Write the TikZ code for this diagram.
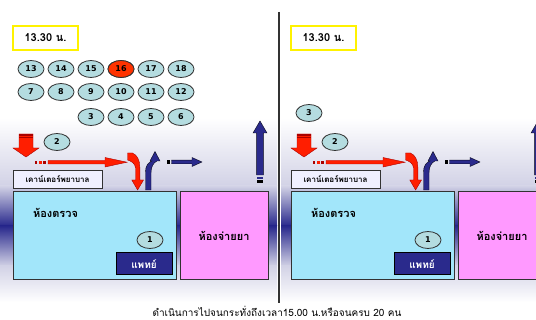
\documentclass[tikz,border=0pt]{standalone}
\usepackage{fontspec}
\newfontfamily\thai[Script=Thai]{Loma}
\newfontfamily\digits{DejaVu Sans}
\usetikzlibrary{shapes.geometric}

\definecolor{numfill}{RGB}{180,220,224}
\definecolor{hotnum}{RGB}{255,51,0}
\definecolor{redarrow}{RGB}{255,30,0}
\definecolor{redline}{RGB}{170,0,0}
\definecolor{navy}{RGB}{42,42,140}
\definecolor{examfill}{RGB}{162,230,250}
\definecolor{pharmfill}{RGB}{255,153,255}
\definecolor{bandlight}{RGB}{210,210,230}
\definecolor{banddark}{RGB}{40,40,140}
\definecolor{framegray}{RGB}{50,50,50}

\tikzset{
  num/.style={ellipse, draw=framegray, fill=numfill, line width=0.8pt,
    minimum width=26pt, minimum height=17pt, inner sep=0pt,
    font=\digits\bfseries\fontsize{8}{8}\selectfont},
  timebox/.style={draw=yellow, line width=1.5pt, fill=white,
    minimum width=65pt, minimum height=24pt, inner sep=0pt,
    font=\thai\bfseries\fontsize{11}{11}\selectfont},
  counterbox/.style={draw=framegray, line width=0.9pt, fill=white!94!blue,
    minimum width=89pt, minimum height=18pt, inner sep=0pt,
    font=\thai\bfseries\fontsize{8}{8}\selectfont},
  room/.style={draw=framegray, line width=1pt, inner sep=0pt},
  roomtext/.style={font=\thai\bfseries\fontsize{11}{11}\selectfont, inner sep=0pt},
  redblock/.style={fill=redarrow, draw=redline, line width=0.4pt},
  blueblock/.style={fill=navy, draw=black!80!navy, line width=0.4pt},
}

% one panel of the clinic floor plan; #1 prefixes the node names
\newcommand\drawpanel[1]{%
  \node[timebox] (#1time) at (45.5,38) {13.30 น.};
  % nurse counter and its label
  \node[counterbox] (#1counter) at (57.5,179) {เคาน์เตอร์พยาบาล};
  % red arrow coming down into the queue
  \path[redblock] (19,134) -- (33,134) -- (33,148) -- (39,148) -- (26,157)
    -- (13,148) -- (19,148) -- cycle;
  \fill[redline] (19,134) rectangle (33,135.6);
  \fill[redline] (19,136.6) rectangle (33,137.8);
  \node[num] (#1two) at (57,142) {2};
  % red arrow along the corridor
  \fill[redline] (35,160.6) rectangle (37,163.6);
  \fill[redarrow] (39,160.6) rectangle (41.5,163.6);
  \fill[redline] (43,160.6) rectangle (46,163.6);
  \path[redblock] (48,160.5) -- (105,160.5) -- (105,157.5) -- (127,162.2)
    -- (105,167) -- (105,164) -- (48,164) -- cycle;
  % red arrow turning down into the examination room
  \path[redblock] (127.5,153) -- (132.5,153) .. controls (137,155) and (139.8,160) .. (139.8,167)
    -- (139.8,180) -- (143.5,180) -- (137.6,190) -- (131.8,180) -- (135.5,180)
    -- (135.5,168) .. controls (135.5,163.5) and (131,161) .. (127.5,160) -- cycle;
  % blue arrow coming out of the examination room
  \path[blueblock] (145.5,190) -- (145.5,172) .. controls (145.5,166) and (148,162.5) .. (152,161)
    -- (150,161) -- (155,151.5) -- (160,161) -- (157,161)
    .. controls (153,163) and (151,167) .. (151,173) -- (151,190) -- cycle;
  % blue arrow towards the pharmacy
  \fill[black] (167,160.4) rectangle (170,163.6);
  \path[blueblock] (171.5,160.2) -- (192,160.2) -- (192,157.5) -- (202,162)
    -- (192,166.5) -- (192,163.8) -- (171.5,163.8) -- cycle;
  % blue exit arrow
  \fill[navy] (256.6,177) rectangle (263.4,179);
  \fill[black] (256.6,180.4) rectangle (263.4,182.6);
  \path[blueblock] (256.6,175) -- (256.6,133) -- (253,133) -- (260,121)
    -- (267,133) -- (263.4,133) -- (263.4,175) -- cycle;
  % examination room
  \node[room, fill=examfill, minimum width=163pt, minimum height=88pt] (#1exam) at (94.5,236) {};
  \node[roomtext] (#1examlabel) at (55.5,213) {ห้องตรวจ};
  \node[num] (#1one) at (150,240) {1};
  \node[room, fill=navy, draw=black, minimum width=56pt, minimum height=22pt,
        text=white, font=\thai\bfseries\fontsize{10}{10}\selectfont] (#1doctor) at (144,264) {แพทย์};
  % pharmacy
  \node[room, fill=pharmfill, minimum width=88pt, minimum height=88pt,
        font=\thai\bfseries\fontsize{11}{11}\selectfont] (#1pharm) at (224,236) {ห้องจ่ายยา};
}

% shaded band behind the rooms, from x=#1 to x=#2
\newcommand\drawband[2]{%
  \shade[top color=white, bottom color=bandlight] (#1,118) rectangle (#2,186);
  \shade[top color=bandlight, bottom color=banddark] (#1,186) rectangle (#2,226);
  \shade[top color=banddark, bottom color=bandlight] (#1,226) rectangle (#2,266);
  \shade[top color=bandlight, bottom color=white] (#1,266) rectangle (#2,302);
}

\begin{document}
\begin{tikzpicture}[x=1pt, y=-1pt]
  \useasboundingbox (0,0) rectangle (536,320);
  \clip (0,0) rectangle (536,320);
  \fill[white] (0,0) rectangle (536,320);

  \drawband{0}{277}
  \drawband{281}{536}

  % left panel: the waiting queue
  \drawpanel{L}
  \foreach \n [count=\i from 0] in {13,14,15,16,17,18}
    \node[num] (q\n) at (31+30*\i,69) {\n};
  \node[num, fill=hotnum] at (q16) {16};
  \foreach \n [count=\i from 0] in {7,8,9,10,11,12}
    \node[num] (q\n) at (31+30*\i,92) {\n};
  \foreach \n [count=\i from 2] in {3,4,5,6}
    \node[num] (q\n) at (31+30*\i,117) {\n};

  % right panel: the queue emptied
  \begin{scope}[xshift=278pt]
    \drawpanel{R}
    \node[num] (rq3) at (31,113) {3};
  \end{scope}

  % divider between the two panels
  \draw[line width=2pt, framegray] (279,12) -- (279,303);

  \node[font=\thai\fontsize{10}{10}\selectfont, inner sep=0pt] (caption) at (277,311)
    {ดำเนินการไปจนกระทั่งถึงเวลา15.00 น.หรือจนครบ 20 คน};
\end{tikzpicture}
\end{document}
